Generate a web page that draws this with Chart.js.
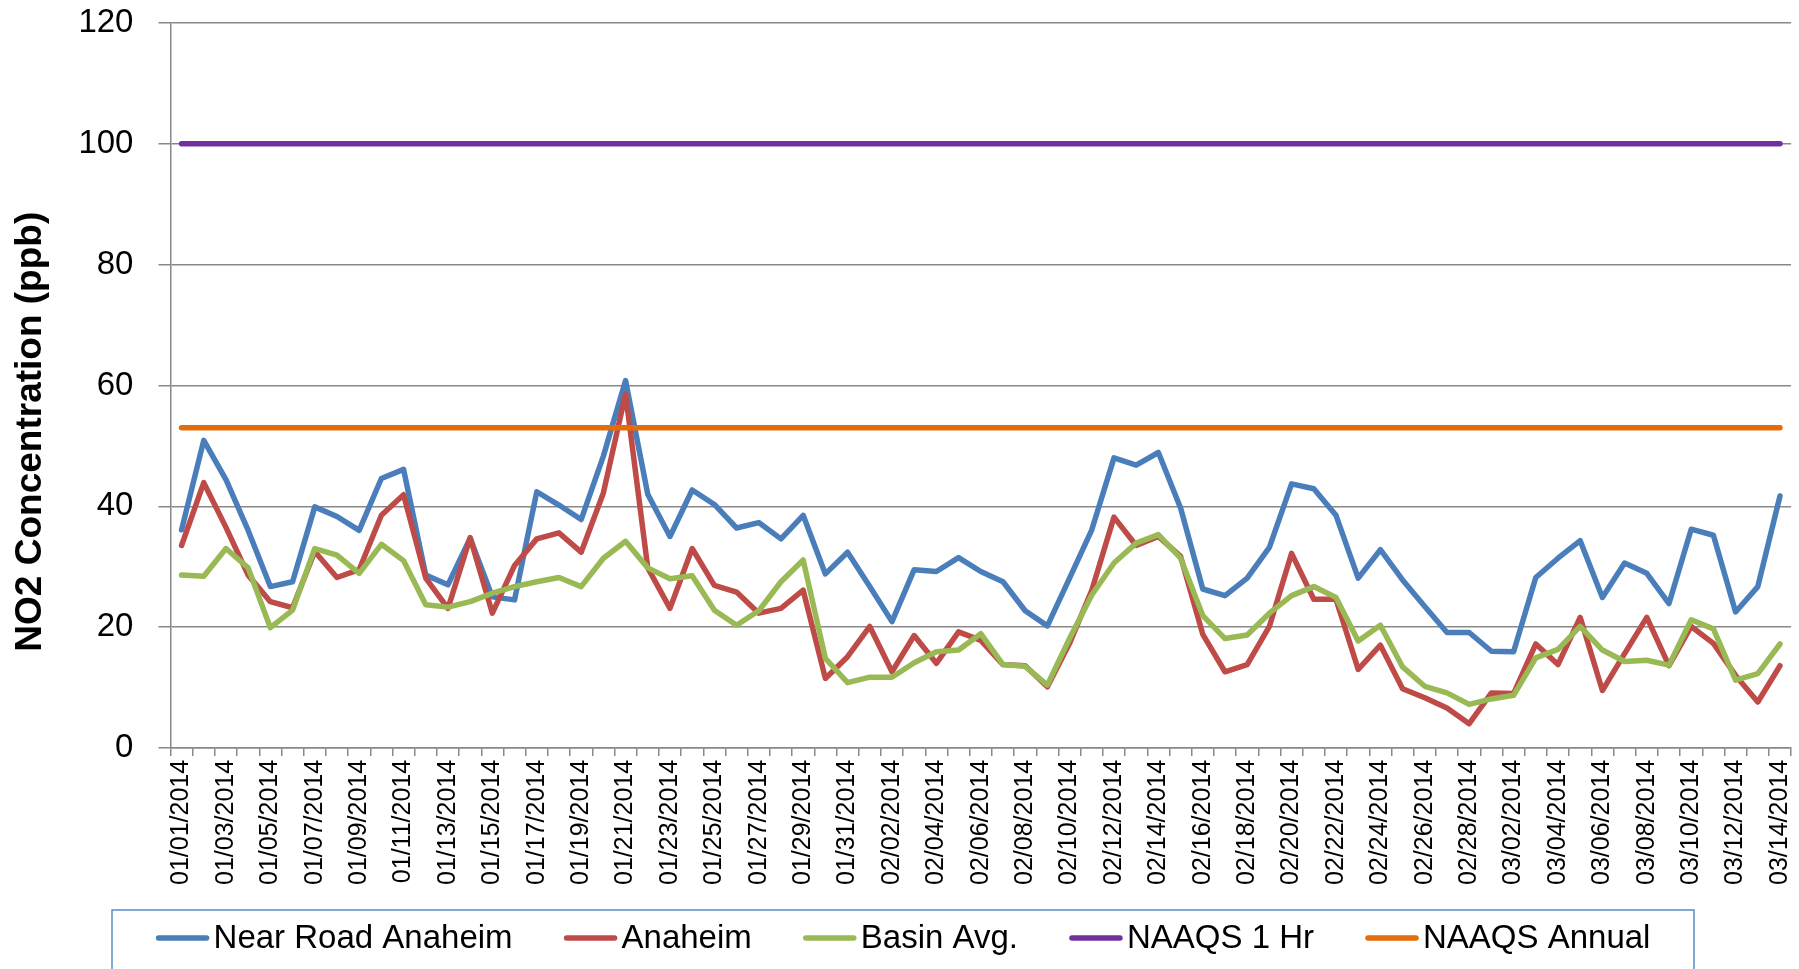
<!DOCTYPE html>
<html>
<head>
<meta charset="utf-8">
<script src="https://cdn.jsdelivr.net/npm/chart.js@4/dist/chart.umd.min.js"></script>
<style>
    html, body { margin: 0; padding: 0; background: #ffffff; }
    #wrap { width: 1799px; height: 969px; }
</style>
</head>
<body>
<div id="wrap"><canvas id="no2-chart" width="1799" height="969"></canvas></div>
<script>
// categories (one per day)
const dates = [
    "01/01/2014", "01/02/2014", "01/03/2014", "01/04/2014", "01/05/2014", "01/06/2014", "01/07/2014", "01/08/2014",
    "01/09/2014", "01/10/2014", "01/11/2014", "01/12/2014", "01/13/2014", "01/14/2014", "01/15/2014", "01/16/2014",
    "01/17/2014", "01/18/2014", "01/19/2014", "01/20/2014", "01/21/2014", "01/22/2014", "01/23/2014", "01/24/2014",
    "01/25/2014", "01/26/2014", "01/27/2014", "01/28/2014", "01/29/2014", "01/30/2014", "01/31/2014", "02/01/2014",
    "02/02/2014", "02/03/2014", "02/04/2014", "02/05/2014", "02/06/2014", "02/07/2014", "02/08/2014", "02/09/2014",
    "02/10/2014", "02/11/2014", "02/12/2014", "02/13/2014", "02/14/2014", "02/15/2014", "02/16/2014", "02/17/2014",
    "02/18/2014", "02/19/2014", "02/20/2014", "02/21/2014", "02/22/2014", "02/23/2014", "02/24/2014", "02/25/2014",
    "02/26/2014", "02/27/2014", "02/28/2014", "03/01/2014", "03/02/2014", "03/03/2014", "03/04/2014", "03/05/2014",
    "03/06/2014", "03/07/2014", "03/08/2014", "03/09/2014", "03/10/2014", "03/11/2014", "03/12/2014", "03/13/2014",
    "03/14/2014"
];

// series values (ppb)
const nearRoadAnaheim = [
    36.1, 50.9, 44.4, 36.0, 26.7, 27.5, 39.9, 38.3, 36.0, 44.6, 46.1, 28.6, 27.0, 34.7, 25.0, 24.5,
    42.4, 40.2, 37.8, 48.3, 60.8, 42.0, 35.0, 42.7, 40.3, 36.4, 37.3, 34.6, 38.5, 28.8, 32.4, 26.7,
    20.9, 29.5, 29.2, 31.5, 29.2, 27.5, 22.7, 20.2, 28.1, 36.1, 48.0, 46.8, 48.9, 39.7, 26.3, 25.2,
    28.1, 33.2, 43.7, 42.9, 38.5, 28.1, 32.8, 27.8, 23.4, 19.1, 19.1, 16.0, 15.9, 28.2, 31.4, 34.3,
    24.9, 30.6, 28.9, 23.9, 36.2, 35.2, 22.5, 26.7, 41.7
];
const anaheim = [
    33.5, 43.9, 36.5, 28.6, 24.2, 23.2, 32.5, 28.2, 29.5, 38.5, 41.9, 28.1, 23.1, 34.8, 22.3, 30.2,
    34.6, 35.6, 32.4, 42.2, 58.6, 29.8, 23.1, 33.0, 26.9, 25.8, 22.3, 23.1, 26.1, 11.5, 15.1, 20.1,
    12.6, 18.6, 14.0, 19.2, 17.8, 13.8, 13.6, 10.1, 17.3, 26.1, 38.2, 33.5, 35.0, 31.7, 18.8, 12.6,
    13.8, 20.1, 32.2, 24.6, 24.6, 13.0, 17.0, 9.8, 8.3, 6.6, 4.0, 9.1, 9.0, 17.2, 13.8, 21.6,
    9.5, 15.6, 21.6, 13.6, 20.1, 17.3, 12.0, 7.6, 13.6
];
const basinAvg = [
    28.6, 28.4, 33.0, 29.8, 19.9, 22.8, 33.0, 31.9, 28.9, 33.7, 31.0, 23.7, 23.3, 24.2, 25.6, 26.7,
    27.5, 28.2, 26.7, 31.4, 34.2, 29.8, 28.0, 28.5, 22.8, 20.3, 22.7, 27.5, 31.1, 14.8, 10.8, 11.7,
    11.7, 14.1, 15.9, 16.2, 18.9, 13.8, 13.5, 10.4, 18.1, 25.3, 30.6, 33.9, 35.3, 31.4, 21.9, 18.1,
    18.7, 22.3, 25.2, 26.7, 24.9, 17.7, 20.3, 13.4, 10.2, 9.1, 7.2, 8.1, 8.7, 14.9, 16.3, 20.1,
    16.2, 14.3, 14.5, 13.7, 21.2, 19.7, 11.2, 12.3, 17.2
];
// standards (constant levels)
const naaqs1Hr = 100;
const naaqsAnnual = 53;

// y axis ticks
const yMin = 0;
const yMax = 120;
const yStep = 20;

const FONT = '"Liberation Sans", Arial, sans-serif';
const GRID = '#888888';

// legend drawn in a bordered box under the axis, like the spreadsheet one
const boxLegend = {
    id: 'boxLegend',
    afterDraw: function (chart) {
        const ctx = chart.ctx;
        const box = { left: 112, top: 910, right: 1694, bottom: 1000 };
        ctx.save();
        ctx.strokeStyle = '#5B8BC9';
        ctx.lineWidth = 1.5;
        ctx.strokeRect(box.left, box.top, box.right - box.left, box.bottom - box.top);

        ctx.font = '33px ' + FONT;
        ctx.textBaseline = 'middle';
        ctx.textAlign = 'left';
        const lineLen = 54, textGap = 4, itemGap = 51, y = 938;
        const items = chart.data.datasets.map(function (ds) {
            return { text: ds.label, color: ds.borderColor, w: ctx.measureText(ds.label).width };
        });
        let total = itemGap * (items.length - 1);
        items.forEach(function (it) { total += lineLen + textGap + it.w; });
        let x = (box.left + box.right) / 2 - total / 2;
        items.forEach(function (it) {
            ctx.strokeStyle = it.color;
            ctx.lineWidth = 5.5;
            ctx.lineCap = 'round';
            ctx.beginPath();
            ctx.moveTo(x + 3, y);
            ctx.lineTo(x + lineLen - 3, y);
            ctx.stroke();
            ctx.fillStyle = '#000000';
            ctx.fillText(it.text, x + lineLen + textGap, y + 1);
            x += lineLen + textGap + it.w + itemGap;
        });
        ctx.restore();
    }
};

function lineSet(label, values, color, order) {
    return {
        label: label,
        data: values,
        borderColor: color,
        backgroundColor: color,
        borderWidth: 5.5,
        pointRadius: 0,
        pointHoverRadius: 0,
        tension: 0,
        fill: false,
        borderCapStyle: 'round',
        borderJoinStyle: 'round',
        order: order
    };
}

const data = {
    labels: dates,
    datasets: [
        lineSet('Near Road Anaheim', nearRoadAnaheim, '#4A7EBB', 5),
        lineSet('Anaheim', anaheim, '#BE4B48', 4),
        lineSet('Basin Avg.', basinAvg, '#98B954', 3),
        lineSet('NAAQS 1 Hr', dates.map(function () { return naaqs1Hr; }), '#7030A0', 2),
        lineSet('NAAQS Annual', dates.map(function () { return naaqsAnnual; }), '#E46C0A', 1)
    ]
};

const config = {
    type: 'line',
    data: data,
    options: {
        responsive: false,
        animation: false,
        devicePixelRatio: 1,
        layout: { padding: { top: 0, right: 1, bottom: 80, left: 0 } },
        plugins: {
            legend: { display: false },
            tooltip: { enabled: false }
        },
        scales: {
            x: {
                offset: true,
                grid: {
                    display: true,
                    offset: true,
                    drawOnChartArea: false,
                    drawTicks: true,
                    tickLength: 8,
                    color: GRID,
                    lineWidth: 1.5
                },
                border: { display: true, color: GRID, width: 1.5 },
                ticks: {
                    autoSkip: false,
                    maxRotation: 90,
                    minRotation: 90,
                    padding: 4,
                    color: '#000000',
                    font: { family: FONT, size: 25, lineHeight: 0.6 },
                    callback: function (value, index) {
                        return index % 2 === 0 ? this.getLabelForValue(value) : '';
                    }
                }
            },
            y: {
                min: yMin,
                max: yMax,
                // the label gap would otherwise push the plot top down
                afterFit: function (scale) {
                    scale.paddingTop = 23;
                },
                grid: {
                    color: GRID,
                    lineWidth: 1.5,
                    drawTicks: true,
                    tickLength: 12
                },
                border: { display: true, color: GRID, width: 1.5 },
                ticks: {
                    stepSize: yStep,
                    padding: 25,
                    color: '#000000',
                    font: { family: FONT, size: 33 }
                },
                title: {
                    display: true,
                    // trailing spaces push the centred text down, as in the original
                    text: 'NO2 Concentration (ppb)\u00A0\u00A0\u00A0\u00A0\u00A0\u00A0\u00A0\u00A0\u00A0',
                    color: '#000000',
                    font: { family: FONT, size: 37, weight: 'bold' },
                    padding: { top: 9, bottom: 0 }
                }
            }
        }
    },
    plugins: [boxLegend]
};

const ctx = document.getElementById('no2-chart').getContext('2d');
const no2Chart = new Chart(ctx, config);
</script>
</body>
</html>
